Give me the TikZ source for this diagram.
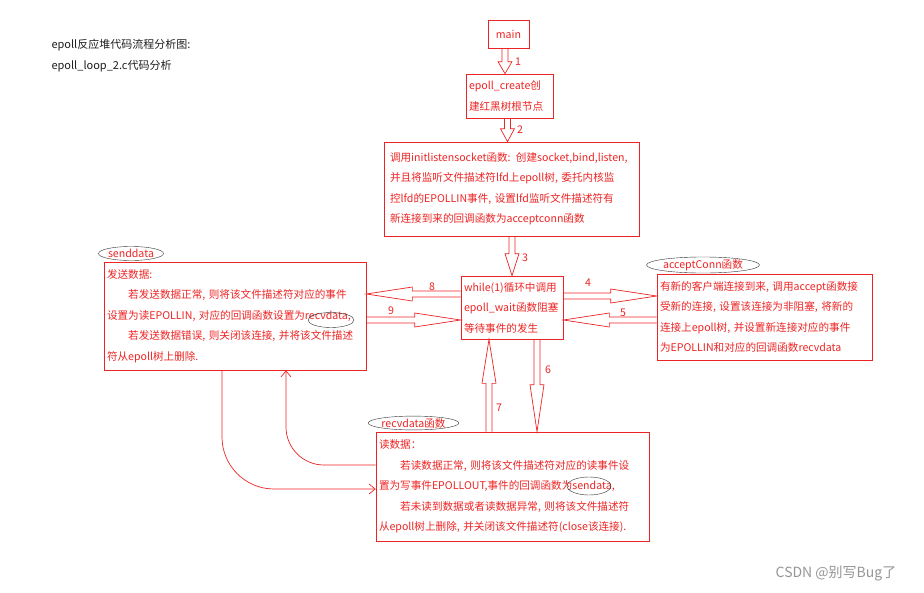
\documentclass[tikz,border=0pt]{standalone}
\usepackage{fontspec}
\setmainfont{Noto Sans CJK SC}
\usepackage{tikz}
\usetikzlibrary{arrows.meta, positioning, shapes.geometric, calc}
\definecolor{flowred}{RGB}{238,36,36}
\definecolor{ringgray}{RGB}{50,50,50}
\definecolor{titlegray}{RGB}{30,30,30}
\definecolor{wmgray}{RGB}{150,150,150}

\begin{document}
\begin{tikzpicture}[
  x=1pt, y=-1pt,
  font=\fontsize{10.6}{20.5}\selectfont,
  box/.style={
    draw=flowred,
    text=flowred,
    line width=0.7pt,
    align=left,
    inner xsep=3pt,
    inner ysep=2pt
  },
  tag/.style={
    ellipse,
    draw=ringgray,
    text=flowred,
    inner sep=0pt
  },
  ring/.style={
    ellipse,
    draw=ringgray,
    inner sep=0pt
  },
  hollow/.style={
    draw=flowred, line width=0.7pt,
    to path={
      let \p1=(\tikztostart), \p2=(\tikztotarget),
          \n1={veclen(\x2-\x1,\y2-\y1)},
          \n2={(\x2-\x1)/\n1}, \n3={(\y2-\y1)/\n1},
          \n4={\n1-#1} in
      (\x1-3*\n3,\y1+3*\n2)
      -- (\x1+\n4*\n2-3*\n3,\y1+\n4*\n3+3*\n2)
      -- (\x1+\n4*\n2-7*\n3,\y1+\n4*\n3+7*\n2)
      -- (\x2,\y2)
      -- (\x1+\n4*\n2+7*\n3,\y1+\n4*\n3-7*\n2)
      -- (\x1+\n4*\n2+3*\n3,\y1+\n4*\n3-3*\n2)
      -- (\x1+3*\n3,\y1-3*\n2)
    }
  },
  hollow/.default=46,
  link/.style={draw=flowred, line width=0.7pt, -{Straight Barb[length=6pt,width=10pt]}},
  num/.style={text=flowred, inner sep=1pt}
]
\useasboundingbox[fill=white] (0,0) rectangle (924,592);

% Heading in the top left corner.
\node[anchor=west, text=titlegray, font=\fontsize{11}{13}\selectfont] (title) at (48,45) {epoll反应堆代码流程分析图:};
\node[anchor=west, text=titlegray, font=\fontsize{11}{13}\selectfont] (subtitle) at (48,66) {epoll\_loop\_2.c代码分析};

% Main column.
\node[box, align=center, minimum width=41pt, minimum height=28pt] (main) at (508.5,34) {main};

\node[box, text width=81pt, minimum height=44pt] (create) at (509.5,96)
{epoll\_create创\\建红黑树根节点};

\node[box, inner xsep=6pt, text width=243pt, minimum height=94pt] (listen) at (511.5,189)
{调用initlistensocket函数: 创建socket,bind,listen,\\
并且将监听文件描述符lfd上epoll树, 委托内核监\\
控lfd的EPOLLIN事件, 设置lfd监听文件描述符有\\
新连接到来的回调函数为acceptconn函数};

\node[box, text width=96pt, minimum height=63pt] (while) at (512,307.5)
{while(1)循环中调用\\epoll\_wait函数阻塞\\等待事件的发生};

% Callback boxes.
\node[box, text width=209pt, minimum height=86pt] (accept) at (764.5,317)
{有新的客户端连接到来, 调用accept函数接\\
受新的连接, 设置该连接为非阻塞, 将新的\\
连接上epoll树, 并设置新连接对应的事件\\
为EPOLLIN和对应的回调函数recvdata};

\node[box, text width=256pt, minimum height=108pt] (send) at (235,316)
{发送数据:\\
\hspace*{2em}若发送数据正常, 则将该文件描述符对应的事件\\
设置为读EPOLLIN, 对应的回调函数设置为recvdata,\\
\hspace*{2em}若发送数据错误, 则关闭该连接, 并将该文件描述\\
符从epoll树上删除.};

\node[box, text width=267pt, minimum height=109pt] (recv) at (512.5,486.5)
{读数据：\\
\hspace*{2em}若读数据正常, 则将该文件描述符对应的读事件设\\
置为写事件EPOLLOUT,事件的回调函数为sendata,\\
\hspace*{2em}若未读到数据或者读数据异常, 则将该文件描述符\\
从epoll树上删除, 并关闭该文件描述符(close该连接).};

% Ellipse tags above the boxes and rings round the callback names.
\node[tag, minimum width=58pt, minimum height=14pt] (sendtag) at (131,253.5) {senddata};
\node[tag, minimum width=96pt, minimum height=15pt] (accepttag) at (703,265) {acceptConn函数};
\node[tag, minimum width=79pt, minimum height=13pt] (recvtag) at (413.5,423) {recvdata函数};
\node[ring, minimum width=46pt, minimum height=15pt] (recvring) at (331,320) {};
\node[ring, minimum width=44pt, minimum height=18pt] (sendring) at (589,486) {};

% Hollow block arrows, numbered in order.
\draw[hollow=12] ([xshift=-3.5pt]main.south) to ([xshift=-3.5pt]main.south |- create.north);
\node[num] (n1) at (518,62) {1};
\draw[hollow=13] ([xshift=-2pt]create.south) to ([xshift=-2pt]create.south |- listen.north);
\node[num] (n2) at (520,130) {2};
\draw[hollow=22] (while.north |- listen.south) to (while.north);
\node[num] (n3) at (525,258) {3};

\draw[hollow] ([yshift=11.5pt]while.east) to ([yshift=11.5pt]while.east -| accept.west);
\node[num] (n4) at (588,283) {4};
\draw[hollow] ([yshift=-12.5pt]while.east -| accept.west) to ([yshift=-12.5pt]while.east);
\node[num] (n5) at (623,313) {5};

\draw[hollow] ([yshift=13.5pt]while.west) to ([yshift=13.5pt]while.west -| send.east);
\node[num] (n8) at (432,287) {8};
\draw[hollow] ([yshift=-12.5pt]while.west -| send.east) to ([yshift=-12.5pt]while.west);
\node[num] (n9) at (391,311) {9};

\draw[hollow=47] ([xshift=25pt]while.south) to ([xshift=25pt]while.south |- recv.north);
\node[num] (n6) at (548,370) {6};
\draw[hollow=44] ([xshift=-23pt]while.south |- recv.north) to ([xshift=-23pt]while.south);
\node[num] (n7) at (499,408) {7};

% Direct calls between the two data callbacks.
\draw[link, rounded corners=38pt] ([yshift=21.5pt]recv.west) -| ([xshift=51pt]send.south);
\draw[link, rounded corners=52pt] ([xshift=-13pt]send.south) |- ([yshift=-2.5pt]recv.west);

% Watermark.
\node[text=wmgray, font=\fontsize{14}{16}\selectfont] (mark) at (836,573) {CSDN @别写Bug了};

\end{tikzpicture}
\end{document}
